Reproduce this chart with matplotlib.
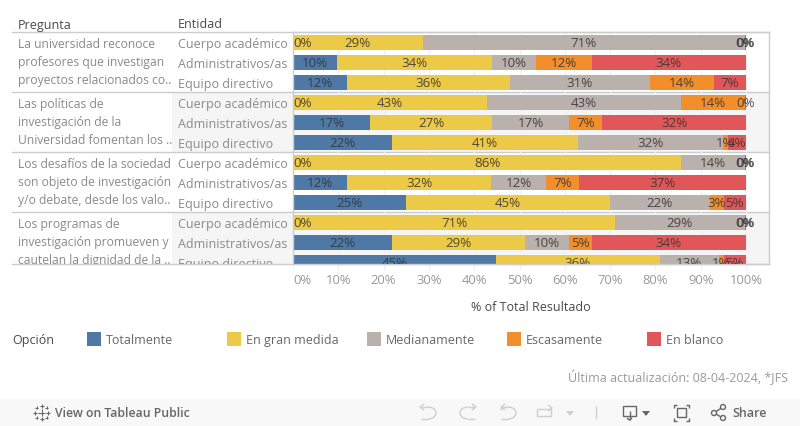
"""
Stacked bars of survey answers per question and group, Tableau Public style.
"""

import matplotlib
matplotlib.use('Agg')
import matplotlib.pyplot as plt
from matplotlib.patches import Arc, Circle, Rectangle
from matplotlib.transforms import Bbox, TransformedBbox

plt.rcParams['font.family'] = ['Open Sans', 'DejaVu Sans']

preguntas = [
    ['La universidad reconoce', 'profesores que investigan', 'proyectos relacionados co..'],
    ['Las políticas de', 'investigación de la', 'Universidad fomentan los ..'],
    ['Los desafíos de la sociedad', 'son objeto de investigación', 'y/o debate, desde los valo..'],
    ['Los programas de', 'investigación promueven y', 'cautelan la dignidad de la ..'],
]
entidades = ['Cuerpo académico', 'Administrativos/as', 'Equipo directivo']
opciones = ['Totalmente', 'En gran medida', 'Medianamente', 'Escasamente', 'En blanco']
colores = ['#4e79a7', '#edc948', '#bab0ac', '#f28e2b', '#e15759']

# one value per bar, top to bottom (question by question, three groups each)
totalmente = [0, 9.8, 11.9, 0, 17.1, 21.9, 0, 12.0, 24.9, 0, 21.9, 44.8]
gran_medida = [28.6, 34.1, 35.9, 42.9, 26.8, 41.0, 85.7, 31.7, 45.1, 71.1, 29.3, 36.2]
medianamente = [71.1, 9.8, 31.1, 42.8, 17.1, 32.1, 14.0, 12.2, 22.0, 28.6, 9.8, 13.0]
escasamente = [0, 12.2, 14.0, 14.0, 7.3, 1.0, 0, 7.3, 3.1, 0, 4.9, 1.1]
en_blanco = [0.3, 34.1, 7.1, 0.3, 31.7, 3.9, 0.3, 36.8, 4.9, 0.3, 34.1, 4.9]
series = [totalmente, gran_medida, medianamente, escasamente, en_blanco]

ticks = [0, 10, 20, 30, 40, 50, 60, 70, 80, 90, 100]

LINE = '#cccccc'
TEXT = '#8a8a8a'
HEAD = '#484848'
W, H = 800, 427

fig = plt.figure(figsize=(W / 100, H / 100), dpi=100)

# page layer in pixel coordinates, for everything that is not the chart
page = fig.add_axes([0, 0, 1, 1], zorder=0)
page.set_xlim(0, W)
page.set_ylim(H, 0)
page.axis('off')

# chart pane: 0-100% runs from x=293 to x=746, the frame ends at 769
left, right, top, bottom = 293, 769, 32.5, 264.5
ax = fig.add_axes([left / W, 1 - bottom / H, (right - left) / W, (bottom - top) / H], zorder=2)
ax.set_xlim(0, (right - left) / 4.53)
ax.set_ylim((bottom - top) / 20, 0)
ax.patch.set_alpha(0)

# alternate row shading, reaches into the Entidad column
for i in (1, 3):
    y0 = top + i * 60
    y1 = min(y0 + 60, bottom)
    page.add_patch(Rectangle((172, y0), right - 172, y1 - y0, fc='#f5f5f5', ec='none', zorder=0))

for t in ticks[1:]:
    ax.axvline(t, color='#f0f0f0', lw=1, zorder=0)

bar_pos = [p + 0.53 for p in range(len(totalmente))]
starts = [0] * len(bar_pos)
for vals, col in zip(series, colores):
    ax.barh(bar_pos, vals, left=starts, height=0.75, color=col, lw=0, zorder=2)
    for p, s, v in zip(bar_pos, starts, vals):
        # zero bars at the pane edge get pushed inside, as Tableau does
        mid = s + v / 2
        ha = 'left' if mid < 1 else 'center'
        ax.text(mid, p + 0.02, f'{round(v)}%', ha=ha, va='center', fontsize=9.6,
                color='#333333', alpha=0.85, zorder=3, clip_on=True)
    starts = [s + v for s, v in zip(starts, vals)]

for side in ax.spines.values():
    side.set_color(LINE)
    side.set_linewidth(1)
ax.set_yticks([])
ax.set_xticks(ticks)
ax.set_xticklabels([f'{t}%' for t in ticks])
ax.tick_params(axis='x', length=4, width=1, color='#f0f0f0', labelcolor='#999999',
               labelsize=9.4, pad=3)
ax.get_xticklabels()[0].set_ha('left')
ax.set_xlabel('% of Total Resultado', fontsize=9, color=HEAD, fontweight='medium', labelpad=10)

# table rules and headers
for i in range(4):
    page.plot([12, right], [top + i * 60] * 2, color=LINE, lw=1, zorder=1)
page.plot([12, right], [bottom, bottom], color=LINE, lw=1, zorder=1)
page.text(18, 25, 'Pregunta', fontsize=9, color=HEAD, va='center', fontweight='medium')
page.text(178, 25, 'Entidad', fontsize=9, color=HEAD, va='center', fontweight='medium')

clip = TransformedBbox(Bbox([[0, 0], [W, bottom]]), page.transData)
for i, lineas in enumerate(preguntas):
    for j, linea in enumerate(lineas):
        t = page.text(18, top + i * 60 + 12 + j * 18, linea, fontsize=8.7, color=TEXT, va='center')
        t.set_clip_box(clip)
        t.set_clip_on(True)
    for j, ent in enumerate(entidades):
        t = page.text(178, top + i * 60 + 12 + j * 20, ent, fontsize=9, color=TEXT, va='center')
        t.set_clip_box(clip)
        t.set_clip_on(True)

# legend
page.text(12, 341, 'Opción', fontsize=9, color=HEAD, va='center', fontweight='medium')
for i, (op, col) in enumerate(zip(opciones, colores)):
    x = 87 + i * 140
    page.add_patch(Rectangle((x, 333), 14, 14, fc=col, ec='none'))
    page.text(x + 19, 341, op, fontsize=9, color='#666666', va='center')

page.text(788, 377, 'Última actualización: 08-04-2024, *JFS', fontsize=9, color='#999999',
          ha='right', va='center')

# toolbar strip
page.add_patch(Rectangle((0, 400), W, 27, fc='#f8f8f8', ec='none'))
page.text(55, 413.5, 'View on Tableau Public', fontsize=8.8, color='#666666', va='center',
          fontweight='semibold')
page.text(732, 413.5, 'Share', fontsize=9, color='#666666', va='center', fontweight='semibold')


def seg(xs, ys, color='#666666', lw=1.0):
    page.plot(xs, ys, color=color, lw=lw, solid_capstyle='butt')


# tableau logo, small crosses
for cx, cy, r in [(41.5, 413.5, 3.5), (41.5, 407, 2), (41.5, 420, 2), (35, 413.5, 2), (48, 413.5, 2),
                  (36.5, 408.5, 1.5), (46.5, 408.5, 1.5), (36.5, 418.5, 1.5), (46.5, 418.5, 1.5)]:
    seg([cx - r, cx + r], [cy, cy], lw=0.8)
    seg([cx, cx], [cy - r, cy + r], lw=0.8)

# undo / redo / revert / refresh, greyed out
soft = '#cfcfcf'
page.add_patch(Arc((428, 414), 16, 12, theta1=-90, theta2=90, ec=soft, lw=1))
seg([421, 428], [408, 408], soft)
seg([424, 420, 424], [405, 408, 411], soft)
seg([428, 421], [420, 420], soft)
page.add_patch(Arc((468, 414), 16, 12, theta1=90, theta2=270, ec=soft, lw=1))
seg([468, 475], [408, 408], soft)
seg([472, 476, 472], [405, 408, 411], soft)
seg([468, 475], [420, 420], soft)
page.add_patch(Arc((508, 414), 16, 12, theta1=-90, theta2=90, ec=soft, lw=1))
seg([501, 508], [408, 408], soft)
seg([505, 502, 505], [405, 408, 411], soft)
seg([501, 501], [406, 411], soft)
seg([508, 501], [420, 420], soft)
page.add_patch(Rectangle((537, 410), 14, 7, fc='none', ec=soft, lw=1))
seg([548, 552, 548], [406, 409, 412], soft)
page.fill([566, 574, 570], [412, 412, 417], color=soft, lw=0)
seg([595.5, 595.5], [407, 420], soft)

# download
page.add_patch(Rectangle((623, 407), 13, 10, fc='none', ec='#666666', lw=1))
seg([629.5, 629.5], [412, 421])
seg([627, 629.5, 632], [419, 421, 419])
page.fill([642, 650, 646], [412, 412, 417], color='#666666', lw=0)

# fullscreen: inner box and four corner brackets
page.add_patch(Rectangle((677, 409), 9, 9, fc='none', ec='#666666', lw=1))
for cx, sx in ((673.5, 1), (688.5, -1)):
    for cy, sy in ((406, 1), (422, -1)):
        seg([cx + 3 * sx, cx, cx], [cy, cy, cy + 3 * sy])

# share
seg([714, 723], [414, 408])
seg([714, 723], [414, 419])
for c in [(714, 414), (723, 408), (723, 419)]:
    page.add_patch(Circle(c, 2.5, fc='#f8f8f8', ec='#666666', lw=1, zorder=3))

fig.savefig('out.png', dpi=100, facecolor='white')
